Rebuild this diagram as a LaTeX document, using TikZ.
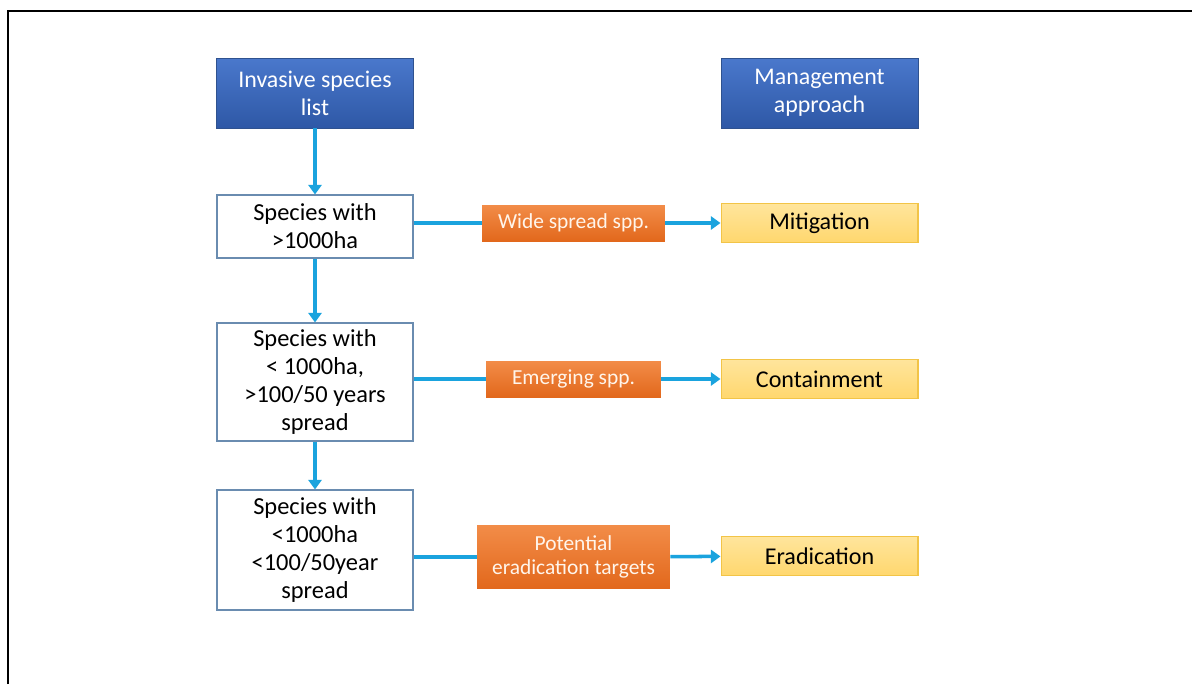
\documentclass[tikz,border=0pt]{standalone}
\usepackage{fontspec}
\setmainfont{Carlito}
\usetikzlibrary{arrows.meta}
\definecolor{Sky}{HTML}{1AA3DE}
\definecolor{BlueTop}{HTML}{4A78CC}
\definecolor{BlueBot}{HTML}{2E58A6}
\definecolor{BlueEdge}{HTML}{2F528F}
\definecolor{OrangeTop}{HTML}{F28C48}
\definecolor{OrangeBot}{HTML}{E2681C}
\definecolor{YellowTop}{HTML}{FFE59C}
\definecolor{YellowBot}{HTML}{FFD76E}
\definecolor{YellowEdge}{HTML}{F2C447}
\definecolor{Slate}{HTML}{6A8CB0}

\begin{document}
\begin{tikzpicture}[x=0.02cm,y=-0.02cm,
    header/.style={draw=BlueEdge,line width=0.5pt,top color=BlueTop,bottom color=BlueBot,
      text=white,align=center,minimum width=3.94cm,minimum height=1.4cm,
      font=\fontsize{13.6}{16}\selectfont},
    crit/.style={draw=Slate,line width=0.6pt,fill=white,align=center,minimum width=3.92cm,
      font=\fontsize{13.9}{16}\selectfont},
    group/.style={top color=OrangeTop,bottom color=OrangeBot,text=white!92!orange,align=center,
      minimum height=0.72cm,inner sep=2pt,font=\fontsize{12.2}{14}\selectfont},
    action/.style={draw=YellowEdge,line width=0.6pt,top color=YellowTop,bottom color=YellowBot,
      minimum width=3.94cm,minimum height=0.78cm,font=\fontsize{13.7}{16}\selectfont},
    flow/.style={draw=Sky,line width=2pt},
    flowto/.style={flow,-{Triangle[length=5.5pt,width=7.5pt]}}]
  \useasboundingbox (0,0) rectangle (1192,684);
  \draw[line width=1.2pt] (8,684) -- (8,11) -- (1192,11);

  % column heads
  \node[header] (list) at (315,93) {Invasive species\\list};
  \node[header] (mgmt) at (819.5,93) {Management\\approach};

  % criteria
  \node[crit,minimum height=1.26cm] (wide) at (315,226.5) {Species with\\>1000ha};
  \node[crit,minimum height=2.36cm] (emerg) at (315,382) {Species with\\< 1000ha,\\>100/50 years\\spread};
  \node[crit,minimum height=2.4cm] (pot) at (315,550) {Species with\\<1000ha\\<100/50year\\spread};

  % groups
  \node[group,minimum width=3.66cm] (widegrp) at (573.5,223) {Wide spread spp.};
  \node[group,minimum width=3.5cm] (emerggrp) at (573.5,379) {Emerging spp.};
  \node[group,minimum width=3.86cm,minimum height=1.26cm] (potgrp) at (573.5,557) {Potential\\eradication targets};

  % actions
  \node[action] (mitig) at (819.5,223) {Mitigation};
  \node[action] (contain) at (819.5,379) {Containment};
  \node[action] (erad) at (819.5,556) {Eradication};

  \draw[flowto] (list) -- (wide);
  \draw[flowto] (wide) -- (emerg);
  \draw[flowto] (emerg) -- (pot);
  \foreach \a/\b/\c in {wide/widegrp/mitig,emerg/emerggrp/contain,pot/potgrp/erad}
  {
    \draw[flow] (\a.east |- \b) -- (\b);
    \draw[flowto] (\b) -- (\c);
  }
\end{tikzpicture}
\end{document}
